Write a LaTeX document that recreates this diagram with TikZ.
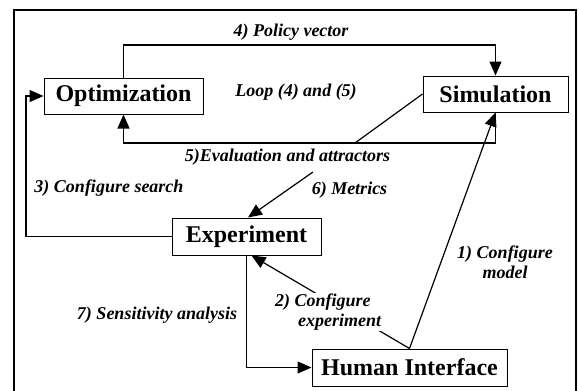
\documentclass[tikz,border=0pt]{standalone}
\usepackage{fontspec}
\setmainfont{Liberation Serif}
\usetikzlibrary{arrows.meta}
\begin{document}
\begin{tikzpicture}[x=1pt,y=-1pt,
  box/.style={draw,line width=1pt,inner sep=0pt,font=\fontsize{24}{28}\selectfont\bfseries},
  lbl/.style={inner sep=1pt,font=\fontsize{18}{20}\selectfont\bfseries\itshape},
  conn/.style={line width=1.2pt},
  arr/.style={conn,-{Triangle[length=14pt,width=12pt]}}]
\useasboundingbox (0,0) rectangle (579,391);
\draw[line width=2pt] (14,392) -- (14,10) -- (576,10) -- (576,392);

\node[box,minimum width=159pt,minimum height=36pt] (opt) at (123.5,96) {Optimization};
\node[box,minimum width=145pt,minimum height=36pt] (sim) at (495.5,94) {Simulation};
\node[box,minimum width=149pt,minimum height=37pt] (exp) at (246.5,236.5) {Experiment};
\node[box,minimum width=195pt,minimum height=37pt] (hi) at (409.5,367.5) {Human Interface};

\coordinate (top4) at (0,45);
\coordinate (bot5) at (0,143);
\coordinate (e5) at (355,143);
\coordinate (m6) at (313,172);
\coordinate (l3) at (26,0);

\draw[arr] (opt.north) -- (opt.north |- top4) -| (sim.north);
\draw[arr] (sim.south) -- (sim.south |- bot5) -| (opt.south);
\draw[conn] (sim.west) -- (e5);
\draw[arr] (hi.north) -- (sim.south);
\draw[arr] (hi.north) -- ([xshift=5pt]exp.south);
\draw[arr] (m6) -- ([xshift=1.5pt]exp.north);
\draw[arr] (exp.west) -| (l3 |- opt.west) -- (opt.west);
\draw[arr] (exp.south) |- (hi.west);

\node[lbl] (l4) at (291,32) {4) Policy vector};
\node[lbl] (lloop) at (296,92) {Loop (4) and (5)};
\node[lbl] (l5) at (287.5,157) {5)Evaluation and attractors};
\node[lbl] (l6) at (349.5,190) {6) Metrics};
\node[lbl] (l3t) at (109,188) {3) Configure search};
\node[lbl] (l7) at (157,315) {7) Sensitivity analysis};
\node[lbl,align=center] (l1) at (505,262) {1) Configure\\model};
\node[lbl,align=left,fill=white,anchor=west] (l2) at (274,312) {2) Configure\\\hspace*{23pt}experiment};
\end{tikzpicture}
\end{document}
